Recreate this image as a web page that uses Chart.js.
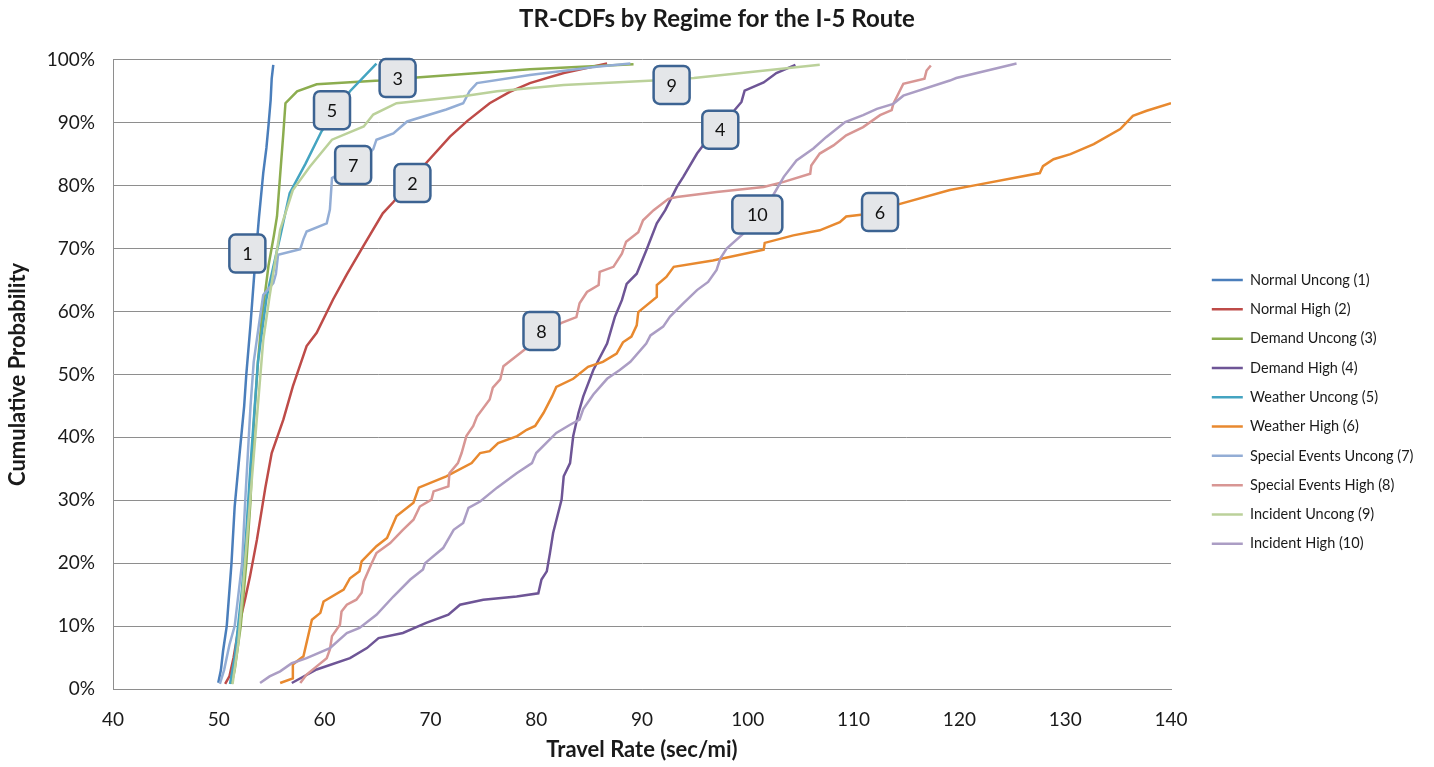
<!DOCTYPE html>
<html>
<head>
<meta charset="utf-8">
<title>TR-CDFs by Regime for the I-5 Route</title>
<script src="https://cdn.jsdelivr.net/npm/chart.js@4"></script>
<style>
  html, body { margin: 0; padding: 0; background: #fff; }
  #wrap { width: 1434px; height: 767px; }
</style>
</head>
<body>
<div id="wrap"><canvas id="myChart" width="1434" height="767"></canvas></div>
<script>
// series: [travel rate (sec/mi), cumulative probability (%)]
var normalUncong = [[49.95,1],[50.2,3],[50.4,6],[50.75,10],[51.2,20],[51.5,29],[52.0,38],[52.4,45],[52.6,50],[53.0,58],[53.4,67],[53.8,75],[54.2,82],[54.5,86],[54.7,89.6],[54.9,93.6],[55.0,97],[55.15,99.2]];
var normalHigh = [[50.6,0.8],[51.0,2],[51.4,5],[51.9,10],[52.5,14.4],[52.95,17.9],[53.6,23.7],[54.4,32],[55.0,37.5],[56.1,42.8],[57.0,48.1],[58.3,54.5],[59.25,56.6],[60.8,61.9],[62.1,65.9],[63.7,70.5],[65.5,75.6],[66.5,77.4],[68,80.5],[69.6,83.6],[71.85,87.8],[73.5,90.3],[75.6,93.1],[77.5,94.9],[79.4,96.3],[82.6,97.9],[86.7,99.4]];
var demandUncong = [[51.2,0.8],[51.5,3],[52.07,10],[52.6,20],[53.0,30],[53.3,42],[53.7,52],[54.05,58.7],[54.7,67.3],[55.2,72],[55.5,75.1],[55.8,81.7],[56.1,88.3],[56.3,93.1],[57.4,95.0],[59.25,96.1],[65.2,96.7],[68.7,97.2],[79.4,98.5],[89.2,99.3]];
var demandHigh = [[56.9,0.95],[59.25,3.1],[62.4,4.9],[64.0,6.5],[65.1,8.1],[67.4,8.9],[69.6,10.5],[71.7,11.8],[72.8,13.4],[75.0,14.2],[78.15,14.7],[80.2,15.2],[80.5,17.4],[81.0,18.7],[81.3,21.6],[81.6,24.8],[82.4,30.1],[82.6,33.8],[83.2,35.9],[83.5,40.2],[84.0,43.9],[84.45,46.5],[85.4,50.7],[86.7,54.9],[87.45,59.2],[88.1,61.8],[88.55,64.4],[89.5,66],[90.4,69.7],[91.4,74],[92.2,76.1],[93.3,79.8],[93.9,81.4],[95.2,85.1],[96.5,88],[98.6,91.7],[99.4,93.3],[99.7,95.1],[101.5,96.4],[102.7,97.9],[104.5,99.2]];
var weatherUncong = [[51.06,0.8],[51.5,5],[52.2,16],[52.6,25],[53.0,35.7],[53.4,45],[53.7,52],[54.5,62],[54.8,64.5],[55.8,71.9],[56.7,78.8],[58.2,83.5],[59.7,88.6],[61.0,91.8],[62.4,95],[64.9,99.4]];
var weatherHigh = [[55.8,0.95],[57.0,1.7],[57.0,3.9],[58.0,5.2],[58.8,11],[59.6,12.1],[59.9,13.9],[61.8,15.8],[62.4,17.6],[63.3,18.7],[63.5,20.3],[64.9,22.7],[65.9,24],[66.8,27.5],[68.4,29.6],[68.9,32],[71.5,33.8],[73.9,35.9],[74.7,37.5],[75.6,37.8],[76.4,39.1],[78.2,40.2],[79.1,41.2],[79.9,41.8],[80.7,43.9],[81.5,46.5],[81.9,48],[83.5,49.3],[84.9,51.2],[86.3,52],[87.6,53.3],[88.2,55.1],[89.0,56],[89.5,57.8],[89.65,59.9],[91.4,62.3],[91.4,64.2],[92.3,65.5],[93.0,67.1],[96.7,68.1],[101.5,69.8],[101.6,70.9],[104.3,72.1],[106.8,72.9],[108.7,74.2],[109.3,75.1],[110.9,75.4],[114.4,77.1],[119.1,79.3],[121.3,80],[127.6,82],[127.9,83.1],[128.9,84.2],[130.5,85],[132.7,86.6],[135.2,89],[136.4,91.1],[137.7,91.9],[140.0,93.1]];
var specialUncong = [[50.1,0.8],[50.5,3],[51.0,7],[51.5,10],[52.2,20],[52.5,30],[53.0,45],[53.3,52],[53.8,58],[54.2,62.6],[55.15,64.5],[55.4,66],[55.6,69],[57.7,69.9],[58.0,71.5],[58.3,72.7],[60.2,74],[60.5,76.2],[60.7,81.2],[61.5,82],[62.5,83],[63.5,84],[64.6,85.8],[64.9,87.3],[66.5,88.3],[67.8,90.2],[71.5,92.1],[73.1,93.1],[73.7,95],[74.4,96.3],[79.4,97.6],[85.7,98.9],[88.9,99.4]];
var specialHigh = [[57.7,0.95],[58.3,2.3],[59.25,3.6],[60.2,4.9],[60.5,6.3],[60.7,8.4],[61.45,10.2],[61.6,12.3],[62.1,13.4],[63.0,14.2],[63.5,15.3],[63.7,17.1],[64.45,20],[64.9,21.6],[66.2,23.2],[67.4,25.3],[68.4,26.9],[69.0,29],[70.1,30.1],[70.3,31.4],[71.7,32.2],[71.8,34.3],[72.6,35.9],[72.95,37.5],[73.4,40.2],[74.05,41.8],[74.4,43.3],[75.6,46],[75.9,47.9],[76.6,49.2],[76.9,51.3],[79.1,54.2],[82.4,58.2],[83.8,59.1],[84.1,61.3],[84.8,63.1],[85.9,64.2],[86.0,66.3],[87.3,67.1],[88.1,69.2],[88.5,71.1],[89.65,72.6],[90.1,74.5],[91.1,76.1],[92.5,77.9],[93.3,78.2],[97.05,79],[101.5,79.8],[103.4,80.6],[105.9,81.9],[106.0,83.2],[106.8,85.1],[108.1,86.4],[109.3,88],[110.9,89.3],[112.5,91.2],[113.6,92],[113.75,93],[114.7,96.2],[116.7,97],[116.9,98.3],[117.3,99.1]];
var incidentUncong = [[51.3,0.8],[51.85,7.4],[52.6,22.6],[53.4,39],[54.2,55.4],[54.8,62.4],[55.8,73],[57.0,79.3],[58.6,83],[60.7,87.3],[63.7,89.4],[64.6,91.3],[66.8,93.1],[73.1,94.2],[76.3,95],[82.6,96],[91.1,96.7],[94.9,97.1],[106.8,99.2]];
var incidentHigh = [[53.9,0.95],[54.8,2],[55.8,2.8],[56.9,4.1],[58.3,4.9],[60.5,6.5],[62.1,8.9],[63.3,9.7],[64.9,11.8],[66.5,14.7],[68.1,17.4],[69.3,19],[69.5,20],[71.2,22.4],[72.2,25.3],[73.1,26.4],[73.6,28.8],[74.7,29.8],[76.3,32],[78.15,34.3],[79.6,35.9],[80.0,37.5],[81.9,40.7],[83.2,42],[84.1,42.8],[84.45,44.5],[85.4,46.8],[86.7,49.3],[87.9,50.7],[88.9,52],[90.4,54.9],[90.8,56.2],[92.0,57.6],[92.65,59.2],[93.9,61.3],[95.2,63.4],[96.25,64.7],[97.05,66.6],[97.4,68.4],[98.0,70],[100,73],[102.3,78.2],[103.4,81.4],[104.6,84],[106.2,85.9],[107.4,87.7],[109.2,90.1],[110.9,91.2],[112.2,92.2],[113.75,93],[114.7,94.3],[119.1,96.7],[119.7,97.1],[125.4,99.4]];

var seriesNames = ['Normal Uncong (1)','Normal High (2)','Demand Uncong (3)','Demand High (4)','Weather Uncong (5)','Weather High (6)','Special Events Uncong (7)','Special Events High (8)','Incident Uncong (9)','Incident High (10)'];
var seriesData = [normalUncong, normalHigh, demandUncong, demandHigh, weatherUncong, weatherHigh, specialUncong, specialHigh, incidentUncong, incidentHigh];
var seriesColors = ['#4A7EBB','#BE4B48','#8CAD4F','#6E5596','#44A4C1','#E8892F','#93ADD5','#D89694','#BBD19A','#AB9DC4'];

// callout boxes
var calloutText = ['1','2','3','4','5','6','7','8','9','10'];
var calloutX = [52.7, 68.3, 66.9, 97.4, 60.7, 112.5, 62.7, 80.5, 92.8, 100.9];
var calloutY = [69.2, 80.4, 97.1, 88.9, 92.0, 75.8, 83.3, 56.9, 96.0, 75.4];

var xTicks = [40, 50, 60, 70, 80, 90, 100, 110, 120, 130, 140];

var FONT = 'Lato, "Open Sans", sans-serif';
var GRID = '#8e8e8e';
var TXT = '#1a1a1a';

var datasets = seriesData.map(function (pts, i) {
  return {
    label: seriesNames[i],
    data: pts.map(function (p) { return { x: p[0], y: p[1] }; }),
    borderColor: seriesColors[i],
    backgroundColor: seriesColors[i],
    borderWidth: 2.5,
    pointRadius: 0,
    showLine: true,
    tension: 0,
    order: 10 - i
  };
});

var callouts = {
  id: 'callouts',
  afterDatasetsDraw: function (chart) {
    var ctx = chart.ctx;
    var xs = chart.scales.x, ys = chart.scales.y;
    ctx.save();
    ctx.font = '18px ' + FONT;
    ctx.textAlign = 'center';
    ctx.textBaseline = 'middle';
    for (var i = 0; i < calloutText.length; i++) {
      var cx = xs.getPixelForValue(calloutX[i]);
      var cy = ys.getPixelForValue(calloutY[i]);
      var w = calloutText[i].length > 1 ? 50 : 36, h = 38;
      ctx.beginPath();
      ctx.roundRect(cx - w / 2, cy - h / 2, w, h, 6);
      ctx.fillStyle = '#E4E6E9';
      ctx.fill();
      ctx.lineWidth = 2.5;
      ctx.strokeStyle = '#3C6392';
      ctx.stroke();
      ctx.fillStyle = '#111';
      ctx.fillText(calloutText[i], cx, cy + 1);
    }
    ctx.restore();
  }
};

// push the legend a bit away from the plot area
var legendGap = {
  id: 'legendGap',
  afterLayout: function (chart) {
    chart.legend.left += 26;
    chart.legend.right += 26;
  }
};

var ctx = document.getElementById('myChart').getContext('2d');
var myChart = new Chart(ctx, {
  type: 'scatter',
  data: { datasets: datasets },
  plugins: [callouts, legendGap],
  options: {
    responsive: false,
    animation: false,
    layout: { padding: { left: 0, right: 0, top: 0, bottom: 0 } },
    scales: {
      x: {
        type: 'linear',
        min: 40,
        max: 140,
        afterBuildTicks: function (scale) {
          scale.ticks = xTicks.map(function (v) { return { value: v }; });
        },
        afterFit: function (scale) {
          scale.height = 78;
          scale.paddingRight = 263; // room between plot and legend
        },
        grid: { display: false, drawTicks: false },
        border: { display: true, color: GRID, width: 1 },
        ticks: { color: TXT, font: { family: FONT, size: 19 }, padding: 19, maxRotation: 0 },
        title: { display: true, text: 'Travel Rate (sec/mi)', color: TXT, font: { family: FONT, size: 22, weight: 'bold' }, padding: { top: 2, bottom: 4 } }
      },
      y: {
        min: 0,
        max: 100,
        afterFit: function (scale) { scale.width = 113; },
        grid: { color: GRID, lineWidth: 1, drawTicks: false },
        border: { display: true, color: GRID, width: 1 },
        ticks: {
          stepSize: 10,
          padding: 18,
          color: TXT,
          font: { family: FONT, size: 19 },
          callback: function (v) { return v + '%'; }
        },
        title: { display: true, text: 'Cumulative Probability', color: TXT, font: { family: FONT, size: 22, weight: 'bold' }, padding: { top: 5, bottom: 2 } }
      }
    },
    plugins: {
      title: {
        display: true,
        text: 'TR-CDFs by Regime for the I-5 Route',
        color: TXT,
        font: { family: FONT, size: 24, weight: 'bold' },
        padding: { top: 5, bottom: 26 }
      },
      legend: {
        display: true,
        position: 'right',
        align: 'start',
        title: { display: true, text: ' ', font: { size: 10 }, padding: { top: 246, bottom: 0 } },
        labels: {
          usePointStyle: true,
          pointStyle: 'line',
          pointStyleWidth: 31,
          boxHeight: 10,
          padding: 14.8,
          color: TXT,
          font: { family: FONT, size: 14.5 },
          sort: function (a, b) { return a.datasetIndex - b.datasetIndex; }
        }
      },
      tooltip: { enabled: false }
    }
  }
});
</script>
</body>
</html>
